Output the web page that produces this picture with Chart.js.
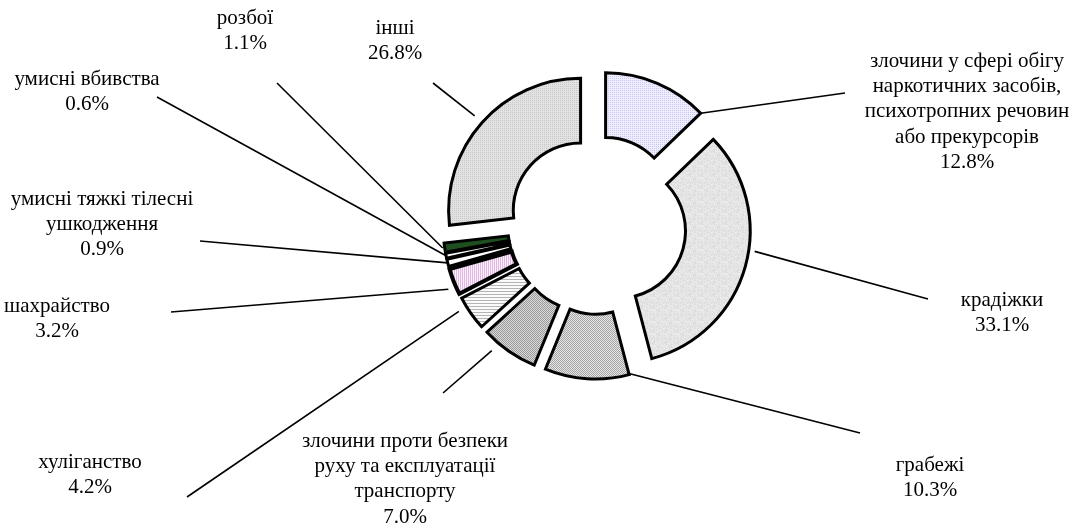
<!DOCTYPE html>
<html><head><meta charset="utf-8">
<script src="https://cdn.jsdelivr.net/npm/chart.js@4.4.1/dist/chart.umd.min.js"></script>
<style>html,body{margin:0;padding:0;background:#fff;} #wrap{width:1076px;height:530px;}</style>
</head><body><div id="wrap"><canvas id="c" width="1076" height="530"></canvas></div>
<script>
// ---- data ----
const categories = [
  ['злочини у сфері обігу', 'наркотичних засобів,', 'психотропних речовин', 'або прекурсорів'],
  ['крадіжки'],
  ['грабежі'],
  ['злочини проти безпеки', 'руху та експлуатації', 'транспорту'],
  ['хуліганство'],
  ['шахрайство'],
  ['умисні тяжкі тілесні', 'ушкодження'],
  ['умисні вбивства'],
  ['розбої'],
  ['інші']
];
const shares = [12.8, 33.1, 10.3, 7.0, 4.2, 3.2, 0.9, 0.6, 1.1, 26.8];

// ---- layout (label text centers, leader line outer ends, anchors on arcs) ----
const labelCenters = [[967,61],[1002,300],[930,465],[405,441],[90,462],[57,306],[102,199],[87,79],[245,18],[395,28]];
const leaderEnds   = [[845,93],[928,299],[860,433],[443,393],[187,497],[171,312],[200,241],[157,97],[277,83],[433,83]];
const leaderAnchor = [[1.0,0],[0.44,6],[0.02,-2],[0.73,10],[0.72,9],[0.32,8],[0.5,0],[0.5,0],[0.5,2],[0.5,10]];
const EXPLODE = 22;
const LINE_H = 25.4;

const canvas = document.getElementById('c');
const mainCtx = canvas.getContext('2d');

function makePattern(w, h, draw) {
  const c = document.createElement('canvas');
  c.width = w; c.height = h;
  const g = c.getContext('2d');
  draw(g, w, h);
  return mainCtx.createPattern(c, 'repeat');
}
function px(g, x, y, col) { g.fillStyle = col; g.fillRect(x, y, 1, 1); }

const lavender = makePattern(2, 2, (g) => { g.fillStyle = '#eeeefe'; g.fillRect(0,0,2,2); px(g,0,0,'#c6c6f0'); });
const granite = makePattern(12, 12, (g) => {
  for (let y = 0; y < 12; y++) for (let x = 0; x < 12; x++) {
    const v = 238 - ((x * 37 + y * 91 + x * y * 13) % 21);
    px(g, x, y, `rgb(${v},${v},${v})`);
  }
});
const dotsGray = makePattern(2, 2, (g) => { g.fillStyle = '#e6e6e6'; g.fillRect(0,0,2,2); px(g,0,0,'#a4a4a4'); px(g,1,1,'#a4a4a4'); });
const checkGray = makePattern(2, 2, (g) => { g.fillStyle = '#dadada'; g.fillRect(0,0,2,2); px(g,0,0,'#9a9a9a'); px(g,1,1,'#9a9a9a'); });
const hStripes = makePattern(3, 3, (g) => { g.fillStyle = '#fafafa'; g.fillRect(0,0,3,3); g.fillStyle = '#b4b4b4'; g.fillRect(0,0,3,1); });
const pinkStripes = makePattern(2, 2, (g) => { g.fillStyle = '#fbf0fb'; g.fillRect(0,0,2,2); g.fillStyle = '#e0b8e0'; g.fillRect(0,0,1,2); });
const lightDots = makePattern(2, 2, (g) => { g.fillStyle = '#e2e2e2'; g.fillRect(0,0,2,2); px(g,0,0,'#c8c8c8'); });

const fills = [lavender, granite, dotsGray, checkGray, hStripes, pinkStripes, '#ffffff', '#ffffff', '#1f4f1f', lightDots];
const borderWidths = [3, 3, 3, 3, 3, 4, 3, 3, 3, 3];

const explodePlugin = {
  id: 'explode',
  beforeDatasetsDraw(chart) {
    const meta = chart.getDatasetMeta(0);
    const ca = chart.chartArea;
    const cx = (ca.left + ca.right) / 2, cy = (ca.top + ca.bottom) / 2;
    meta.data.forEach((a) => {
      const m = (a.startAngle + a.endAngle) / 2;
      a.x = cx + Math.cos(m) * EXPLODE;
      a.y = cy + Math.sin(m) * EXPLODE;
    });
  }
};

const labelPlugin = {
  id: 'outLabels',
  afterDatasetsDraw(chart) {
    const ctx = chart.ctx;
    const meta = chart.getDatasetMeta(0);
    const labels = chart.data.labels;
    const values = chart.data.datasets[0].data;
    ctx.save();
    ctx.strokeStyle = '#000';
    ctx.lineWidth = 1.6;
    meta.data.forEach((a, i) => {
      const [t, gap] = leaderAnchor[i];
      const ang = a.startAngle + t * (a.endAngle - a.startAngle);
      const r = a.outerRadius + gap;
      const sx = a.x + Math.cos(ang) * r, sy = a.y + Math.sin(ang) * r;
      ctx.beginPath();
      ctx.moveTo(sx, sy);
      ctx.lineTo(leaderEnds[i][0], leaderEnds[i][1]);
      ctx.stroke();
    });
    ctx.fillStyle = '#000';
    ctx.font = '21px "Liberation Serif", "Times New Roman", serif';
    ctx.textAlign = 'center';
    ctx.textBaseline = 'middle';
    labels.forEach((lines, i) => {
      const all = lines.concat([values[i].toFixed(1) + '%']);
      const [x, y0] = labelCenters[i];
      all.forEach((ln, k) => ctx.fillText(ln, x, y0 + k * LINE_H));
    });
    ctx.restore();
  }
};

new Chart(mainCtx, {
  type: 'doughnut',
  data: {
    labels: categories,
    datasets: [{
      data: shares,
      backgroundColor: fills,
      borderColor: '#000000',
      borderWidth: borderWidths,
      borderJoinStyle: 'miter',
      borderAlign: 'center'
    }]
  },
  options: {
    responsive: false,
    animation: false,
    events: [],
    cutout: '51%',
    radius: 132,
    rotation: 0,
    layout: { padding: { left: 118, right: 0, top: 0, bottom: 80 } },
    plugins: { legend: { display: false }, tooltip: { enabled: false } }
  },
  plugins: [explodePlugin, labelPlugin]
});
</script>
</body></html>
